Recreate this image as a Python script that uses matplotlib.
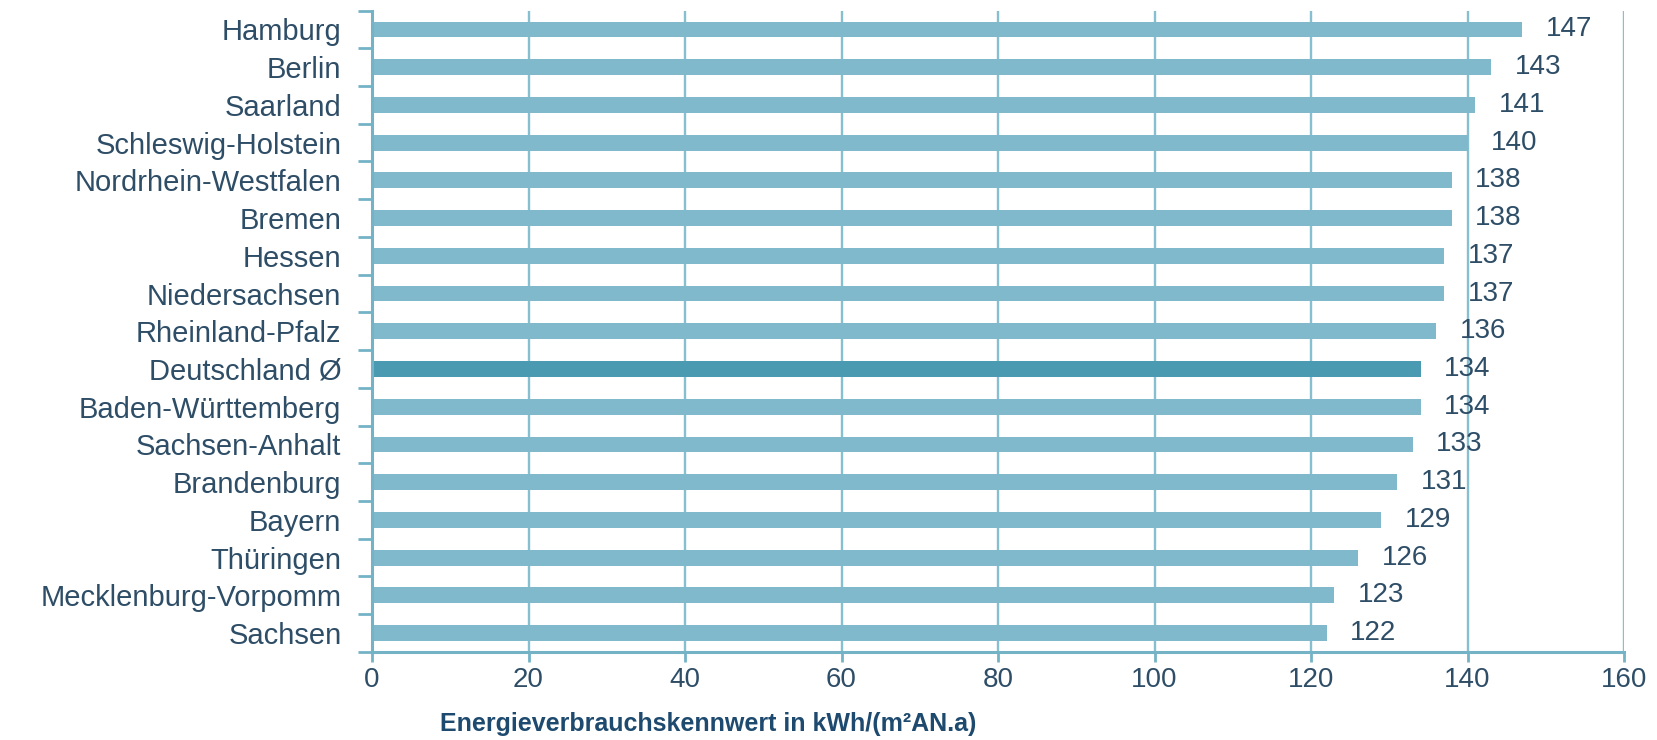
import matplotlib
matplotlib.use("Agg")
import matplotlib.pyplot as plt
from matplotlib.ticker import FixedLocator, NullFormatter
import numpy as np

plt.rcParams['font.family'] = ['Liberation Sans', 'DejaVu Sans']

regions = ["Hamburg", "Berlin", "Saarland", "Schleswig-Holstein",
           "Nordrhein-Westfalen", "Bremen", "Hessen", "Niedersachsen",
           "Rheinland-Pfalz", "Deutschland Ø", "Baden-Württemberg",
           "Sachsen-Anhalt", "Brandenburg", "Bayern", "Thüringen",
           "Mecklenburg-Vorpomm", "Sachsen"]
values = [147, 143, 141, 140, 138, 138, 137, 137, 136, 134, 134, 133, 131,
          129, 126, 123, 122]
highlight = "Deutschland Ø"
x_ticks = [0, 20, 40, 60, 80, 100, 120, 140, 160]

bar_color = "#7fb9cb"
avg_color = "#4a9bb1"
grid_color = "#86bfcf"
spine_color = "#74b3c6"
text_color = "#2e4d66"
title_color = "#1d4a6e"

fig = plt.figure(figsize=(16.58, 7.40), dpi=100)
ax = fig.add_axes([0.2244, 0.119, 0.7551, 0.8667])

y = np.arange(len(regions))
colors = [avg_color if r == highlight else bar_color for r in regions]
ax.barh(y, values, height=0.42, color=colors, zorder=2)

ax.set_xlim(0, 160)
ax.set_ylim(len(regions) - 0.5, -0.5)

ax.set_xticks(x_ticks)
ax.set_xticklabels([str(t) for t in x_ticks])
ax.xaxis.grid(True, color=grid_color, linewidth=1.7, zorder=1)
ax.set_axisbelow(True)

ax.set_yticks(y)
ax.set_yticklabels(regions)
ax.yaxis.set_minor_locator(FixedLocator(np.arange(-0.5, len(regions), 1.0)))
ax.yaxis.set_minor_formatter(NullFormatter())
ax.tick_params(axis='y', which='major', length=0, pad=22,
               labelsize=21, labelcolor=text_color)
ax.tick_params(axis='y', which='minor', length=10, width=2,
               color=spine_color, direction='out')
ax.tick_params(axis='x', which='major', length=7, width=2,
               color=spine_color, direction='out', pad=4,
               labelsize=20, labelcolor=text_color)

for side in ("top", "right"):
    ax.spines[side].set_visible(False)
for side in ("left", "bottom"):
    ax.spines[side].set_color(spine_color)
    ax.spines[side].set_linewidth(2.2)

for yi, v in zip(y, values):
    ax.text(v + 3, yi, str(v), va='center', ha='left',
            fontsize=20, color=text_color)

fig.text(0.427, 0.006, "Energieverbrauchskennwert in kWh/(m²AN.a)",
         ha='center', va='bottom', fontsize=18, fontweight='bold',
         color=title_color)

fig.savefig("out.png", dpi=100)
